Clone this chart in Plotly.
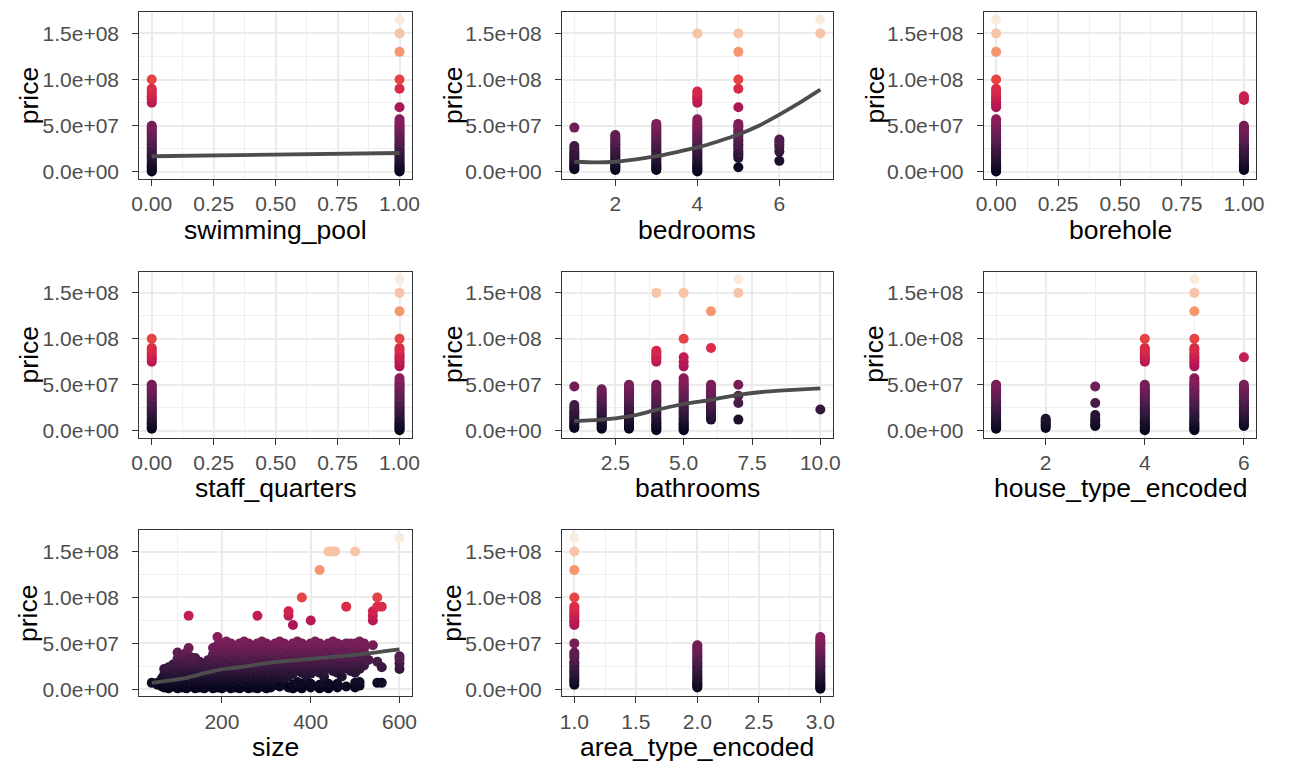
import plotly.graph_objects as go

W, H = 1289, 772
M = 1e6  # prices below are in millions

# ---------------- data (prices in millions) ----------------
low50 = [0.5, 2, 3.5, 5, 6.5, 8, 10, 12, 14, 16, 18, 20, 22, 24, 26, 28, 30, 32, 34, 36, 38, 40, 42, 44, 46, 48, 50]
low57 = low50 + [52, 54, 57]
mid2_50 = [2, 3.5, 5, 6.5, 8, 10, 12, 14, 16, 18, 20, 22, 24, 26, 28, 30, 32, 34, 36, 38, 40, 42, 44, 46, 48, 50]
upper_full = [70, 73, 75, 78, 80, 82, 85, 88, 90, 100, 130, 150, 165]
upper_100 = [75, 78, 80, 82, 85, 88, 90, 100]

pool_levels = [0, 1]
pool_prices = [low50 + upper_100, low57 + [70, 90, 100, 130, 150, 165]]

bed_levels = [1, 2, 3, 4, 5, 6, 7]
bed_prices = [
    [3, 4.5, 6, 8, 10, 12, 14, 16, 18, 20, 22, 25, 28, 48],
    [2, 3.5, 5, 6.5, 8, 10, 12, 14, 16, 18, 20, 22, 24, 26, 28, 30, 32, 34, 36, 38, 40],
    mid2_50 + [52],
    low57 + [75, 78, 80, 82, 85, 87, 150],
    [5, 15, 18, 20, 22, 25, 28, 30, 33, 35, 38, 40, 43, 45, 48, 50, 52, 70, 90, 100, 130, 150],
    [12, 22, 27, 30, 33, 35],
    [150, 165],
]

bore_levels = [0, 1]
bore_prices = [low57 + upper_full, mid2_50 + [78, 80, 82]]

staff_levels = [0, 1]
staff_prices = [mid2_50 + upper_100, low57 + upper_full]

bath_levels = [1, 2, 3, 4, 5, 6, 7, 10]
bath_prices = [
    [3, 4.5, 6, 8, 10, 12, 14, 16, 18, 20, 22, 25, 28, 48],
    [2, 3.5, 5, 6.5, 8, 10, 12, 14, 16, 18, 20, 22, 24, 26, 28, 30, 32, 34, 36, 38, 40, 42, 45],
    mid2_50,
    low50 + [75, 78, 80, 82, 85, 87, 150],
    low57 + [70, 75, 80, 100, 150],
    [12, 14, 16, 18, 20, 22, 24, 26, 28, 30, 32, 34, 36, 38, 40, 42, 44, 46, 48, 50, 90, 130],
    [12, 30, 38, 50, 150, 165],
    [23],
]

house_levels = [1, 2, 3, 4, 5, 6]
house_prices = [
    mid2_50,
    [3, 5, 7, 9, 11, 13],
    [5, 7, 10, 13, 17, 30, 48],
    low50 + upper_100,
    low57 + upper_full,
    [5, 7, 9, 11, 13, 15, 17, 19, 21, 23, 25, 27, 29, 31, 33, 35, 37, 39, 41, 43, 45, 47, 50, 80],
]

area_levels = [1, 2, 3]
area_prices = [
    [5, 8, 10, 12, 15, 18, 20, 22, 25, 28, 30, 35, 38, 40, 50] + upper_full,
    [2, 3.5, 5, 6.5, 8, 10, 12, 14, 16, 18, 20, 22, 24, 26, 28, 30, 32, 34, 36, 38, 40, 42, 44, 46, 48],
    low57,
]

size_cols = [42, 55, 65, 70, 80, 90, 100, 110, 120, 125, 130, 140, 150, 160, 170, 180, 190, 200, 210,
             220, 230, 240, 250, 260, 270, 280, 290, 300, 310, 320, 330, 340, 350, 360, 370, 380,
             390, 400, 410, 420, 430, 440, 450, 455, 460, 470, 480, 490, 500, 510, 520, 530, 540,
             550, 560, 600]
size_col_prices = [
    [7], [7, 5], [3, 8, 12], [2, 6, 10, 16, 22], [1, 5, 9, 14, 19, 24], [3, 7, 12, 17, 22, 27],
    [1, 5, 10, 15, 20, 26, 33, 40], [2, 7, 12, 18, 24, 30, 36], [1, 5, 10, 16, 22, 28, 34, 40],
    [45, 80], [3, 8, 13, 19, 25, 30, 35], [1, 6, 11, 17, 23, 29, 34], [2, 7, 12, 18, 24, 30],
    [1, 5, 10, 16, 22, 28], [3, 8, 14, 20, 26, 32], [1, 6, 12, 18, 24, 30, 38, 45],
    [2, 8, 14, 20, 27, 34, 41, 48, 57], [1, 5, 11, 17, 23, 29, 35, 42, 50],
    [3, 8, 14, 20, 26, 32, 38, 45, 52], [1, 6, 12, 18, 24, 30, 36, 43, 50],
    [2, 8, 14, 20, 27, 33, 40, 47], [1, 5, 11, 17, 23, 29, 35, 42, 50],
    [3, 8, 14, 20, 26, 32, 38, 45, 52], [1, 6, 12, 18, 24, 30, 36, 43, 50],
    [2, 8, 14, 20, 27, 33, 40, 47], [1, 5, 11, 17, 23, 29, 35, 42, 50, 80],
    [3, 8, 14, 20, 26, 32, 38, 45, 52], [1, 6, 12, 18, 24, 30, 36, 43, 50],
    [2, 8, 14, 20, 27, 33, 40, 47], [5, 11, 17, 23, 29, 35, 42, 50],
    [3, 14, 20, 26, 32, 38, 45, 52], [6, 12, 18, 24, 30, 36, 43, 50],
    [2, 14, 20, 27, 33, 40, 47, 80, 85], [1, 5, 17, 23, 29, 35, 42, 50, 70],
    [3, 8, 20, 26, 32, 38, 45, 52], [1, 6, 18, 24, 30, 36, 43, 50, 100],
    [14, 20, 27, 33, 40, 47], [2, 6, 17, 23, 29, 35, 42, 50, 75],
    [20, 26, 32, 38, 45, 52], [1, 5, 18, 24, 30, 36, 43, 50, 130],
    [3, 7, 14, 20, 27, 33, 40, 47], [1, 6, 23, 29, 35, 42, 50, 150],
    [20, 26, 32, 38, 45, 52, 150], [150], [2, 6, 18, 24, 30, 36, 43, 50],
    [14, 22, 28, 35, 42, 48], [3, 23, 29, 35, 42, 50, 90], [20, 26, 32, 38, 45, 50],
    [2, 7, 18, 24, 30, 36, 43, 50, 150], [4, 8, 22, 28, 34, 40, 47, 52], [26, 33, 40, 45, 50],
    [32], [48, 75, 80, 85], [7, 30, 90, 100], [7, 24, 90], [22, 28, 33, 36, 165],
]

# smooth lines
pool_line_x = [0, 1]
pool_line_y = [17, 20.5]
bed_line_x = [1, 1.5, 2, 2.5, 3, 3.5, 4, 4.5, 5, 5.5, 6, 6.5, 7]
bed_line_y = [11, 10.3, 11, 13.5, 17, 21.5, 26.5, 33, 40.5, 50, 62, 75, 89]
bath_line_x = [1, 2, 3, 4, 5, 6, 7, 8, 9, 10]
bath_line_y = [10.5, 12, 15.5, 22.5, 29, 33.5, 39, 42.5, 44.5, 46]
size_line_x = [42, 80, 120, 160, 195, 240, 310, 400, 500, 600]
size_line_y = [7, 9.5, 12.5, 17.5, 21.5, 24, 29, 33, 37.5, 43.5]

# ---------------- styling ----------------
rocket = [
    [0.000, "#03051A"], [0.111, "#2B1637"], [0.222, "#571E4F"], [0.333, "#841E5A"],
    [0.444, "#B41658"], [0.556, "#DD2C45"], [0.667, "#F06043"], [0.778, "#F5936A"],
    [0.889, "#F6BC9B"], [1.000, "#FAEBDD"],
]
all_prices = [p for grp in (pool_prices + bed_prices + bore_prices + staff_prices + bath_prices
                            + house_prices + area_prices + size_col_prices) for p in grp]
pmin, pmax = min(all_prices), max(all_prices)

FONT = "Liberation Sans, Arial, Helvetica, sans-serif"
TICK_FS = 21
TITLE_FS = 26.5

cols_px = [(133, 409), (561, 835), (988, 1264)]
rows_px = [(12, 180), (273, 440), (533, 700)]

bin_ticks = dict(vals=[0, 0.25, 0.5, 0.75, 1], text=["0.00", "0.25", "0.50", "0.75", "1.00"],
                 minor=[0.125, 0.375, 0.625, 0.875], rng=[-0.05, 1.05])
panels = [
    dict(title="swimming_pool", levels=pool_levels, prices=pool_prices, line=(pool_line_x, pool_line_y), **bin_ticks),
    dict(title="bedrooms", levels=bed_levels, prices=bed_prices, line=(bed_line_x, bed_line_y),
         vals=[2, 4, 6], text=["2", "4", "6"], minor=[1, 3, 5, 7], rng=[0.7, 7.3]),
    dict(title="borehole", levels=bore_levels, prices=bore_prices, line=None, **bin_ticks),
    dict(title="staff_quarters", levels=staff_levels, prices=staff_prices, line=None, **bin_ticks),
    dict(title="bathrooms", levels=bath_levels, prices=bath_prices, line=(bath_line_x, bath_line_y),
         vals=[2.5, 5, 7.5, 10], text=["2.5", "5.0", "7.5", "10.0"], minor=[1.25, 3.75, 6.25, 8.75],
         rng=[0.55, 10.45]),
    dict(title="house_type_encoded", levels=house_levels, prices=house_prices, line=None,
         vals=[2, 4, 6], text=["2", "4", "6"], minor=[1, 3, 5], rng=[0.75, 6.25]),
    dict(title="size", levels=size_cols, prices=size_col_prices, line=(size_line_x, size_line_y),
         vals=[200, 400, 600], text=["200", "400", "600"], minor=[100, 300, 500], rng=[14, 628]),
    dict(title="area_type_encoded", levels=area_levels, prices=area_prices, line=None,
         vals=[1, 1.5, 2, 2.5, 3], text=["1.0", "1.5", "2.0", "2.5", "3.0"],
         minor=[1.25, 1.75, 2.25, 2.75], rng=[0.9, 3.1]),
]

yr = [pmin - 0.05 * (pmax - pmin), pmax + 0.05 * (pmax - pmin)]

fig = go.Figure()
layout = dict(width=W, height=H, margin=dict(l=0, r=0, t=0, b=0),
              paper_bgcolor="white", plot_bgcolor="white", showlegend=False,
              font=dict(family=FONT), annotations=[])

for i, p in enumerate(panels):
    r, c = divmod(i, 3)
    x0, x1 = cols_px[c]
    y0, y1 = rows_px[r]
    xa = "x" if i == 0 else f"x{i+1}"
    ya = "y" if i == 0 else f"y{i+1}"
    xs, ys = [], []
    for lev, grp in zip(p["levels"], p["prices"]):
        for v in sorted(grp):
            xs.append(lev)
            ys.append(v * M)
    fig.add_trace(go.Scatter(
        x=xs, y=ys, mode="markers", xaxis=xa, yaxis=ya, hoverinfo="skip",
        marker=dict(size=10, color=ys, colorscale=rocket, cmin=pmin * M, cmax=pmax * M,
                    showscale=False, line=dict(width=0)),
    ))
    if p["line"] is not None:
        lx, ly = p["line"]
        fig.add_trace(go.Scatter(
            x=lx, y=[v * M for v in ly], mode="lines", xaxis=xa, yaxis=ya, hoverinfo="skip",
            line=dict(color="#4D4D4D", width=3.8, shape="spline", smoothing=0.6),
        ))
    common = dict(showline=True, mirror=True, linecolor="#333333", linewidth=1.2,
                  ticks="outside", ticklen=6, tickwidth=1.3, tickcolor="#333333",
                  showgrid=True, gridcolor="#EBEBEB", gridwidth=2, zeroline=False,
                  tickfont=dict(family=FONT, size=TICK_FS, color="#4D4D4D"))
    layout["xaxis" if i == 0 else f"xaxis{i+1}"] = dict(
        domain=[x0 / W, x1 / W], anchor=ya, range=p["rng"],
        tickmode="array", tickvals=p["vals"], ticktext=p["text"], ticklabelstandoff=0,
        minor=dict(tickvals=p["minor"], showgrid=True, gridcolor="#EFEFEF", gridwidth=1, ticks=""),
        **common)
    layout["yaxis" if i == 0 else f"yaxis{i+1}"] = dict(
        domain=[1 - y1 / H, 1 - y0 / H], anchor=xa, range=[yr[0] * M, yr[1] * M],
        tickmode="array", tickvals=[0, 5e7, 1e8, 1.5e8], ticklabelstandoff=9,
        ticktext=["0.0e+00", "5.0e+07", "1.0e+08", "1.5e+08"],
        minor=dict(tickvals=[2.5e7, 7.5e7, 1.25e8], showgrid=True, gridcolor="#EFEFEF", gridwidth=1, ticks=""),
        **common)
    # axis titles
    ytitle_x = [21, 450, 877][c]
    layout["annotations"].append(dict(
        text=p["title"], xref="paper", yref="paper", x=(x0 + x1) / 2 / W, y=1 - (y1 + 51) / H,
        xanchor="center", yanchor="middle", showarrow=False,
        font=dict(family=FONT, size=TITLE_FS, color="black")))
    layout["annotations"].append(dict(
        text="price", xref="paper", yref="paper", x=ytitle_x / W, y=1 - (y0 + y1) / 2 / H,
        xanchor="center", yanchor="middle", showarrow=False, textangle=-90,
        font=dict(family=FONT, size=TITLE_FS, color="black")))

fig.update_layout(**layout)
fig.write_html("out.html", config={"displayModeBar": False},
               post_script="document.body.style.margin='0';")
